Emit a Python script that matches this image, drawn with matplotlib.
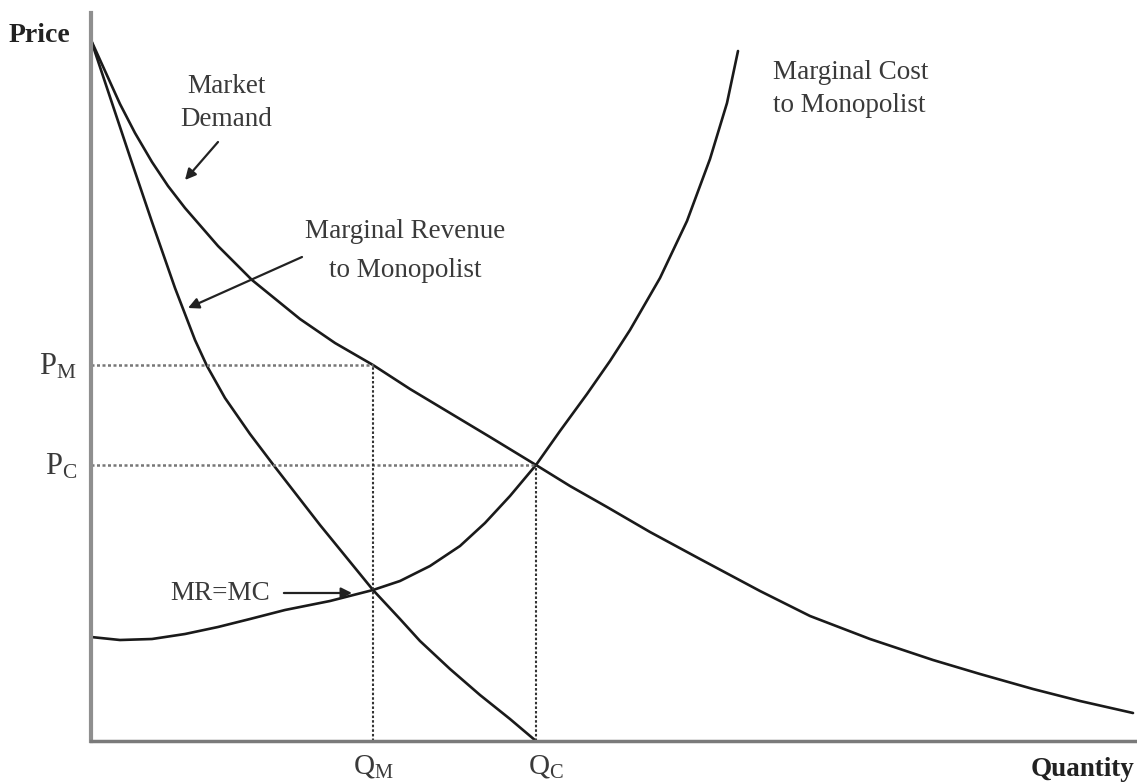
import matplotlib
matplotlib.use("Agg")
import matplotlib.pyplot as plt

plt.rcParams['font.family'] = ['Liberation Serif', 'DejaVu Serif']
plt.rcParams['mathtext.fontset'] = 'custom'
plt.rcParams['mathtext.rm'] = 'Liberation Serif'
plt.rcParams['mathtext.it'] = 'Liberation Serif:italic'

# curves (quantity, price)
demand_q = [0, 2.9, 4.4, 6.1, 7.7, 9.4, 12.7, 16.1, 20.9, 24.4, 28.2, 31.9, 35.9, 39.9, 44.5,
            47.9, 51.6, 55.9, 60.9, 66.9, 71.9, 77.9, 84.2, 88.9, 94.2, 98.9, 104.2]
demand_p = [70.1, 63.7, 60.8, 57.9, 55.5, 53.3, 49.5, 46.1, 42.2, 39.8, 37.6, 35.2, 32.8, 30.4, 27.6,
            25.5, 23.4, 20.9, 18.2, 15.0, 12.5, 10.2, 8.1, 6.7, 5.2, 4.0, 2.8]

mr_q = [0, 1.9, 3.9, 6.1, 8.4, 10.4, 11.6, 13.4, 15.9, 18.4, 22.9, 28.2, 30.9, 32.9, 35.9, 38.9, 41.9, 44.5]
mr_p = [70.1, 64.4, 58.4, 51.9, 45.3, 40.1, 37.5, 34.3, 30.7, 27.4, 21.6, 15.1, 12.2, 10.0, 7.2, 4.6, 2.2, 0]

mc_q = [0, 2.9, 6.1, 9.4, 12.7, 15.9, 19.4, 23.9, 28.2, 30.9, 33.9, 36.9, 39.4, 41.9, 44.5,
        46.9, 49.6, 51.9, 53.9, 56.9, 59.6, 61.9, 63.6, 64.7]
mc_p = [10.4, 10.1, 10.2, 10.7, 11.4, 12.2, 13.1, 14.0, 15.1, 16.0, 17.5, 19.5, 21.8, 24.5, 27.6,
        31.0, 34.7, 38.0, 41.1, 46.3, 52.0, 58.2, 63.8, 69.0]

q_m, p_m = 28.2, 37.6
q_c, p_c = 44.5, 27.6

fig = plt.figure(figsize=(11.37, 7.83), dpi=100)
ax = fig.add_axes([91 / 1137, 42 / 783, 1046 / 1137, 728 / 783])
ax.set_xlim(0, 104.6)
ax.set_ylim(0, 72.8)
ax.set_xticks([])
ax.set_yticks([])
for s in ['top', 'right']:
    ax.spines[s].set_visible(False)
ax.spines['left'].set_color('#8f8f8f')
ax.spines['left'].set_linewidth(3)
ax.spines['bottom'].set_color('#7a7a7a')
ax.spines['bottom'].set_linewidth(2.5)

ink = '#1a1a1a'
for xs, ys in [(demand_q, demand_p), (mr_q, mr_p), (mc_q, mc_p)]:
    ax.plot(xs, ys, color=ink, lw=1.9, solid_joinstyle='round', solid_capstyle='round')

dots = (0, (1.2, 1.0))
ax.plot([0, q_m], [p_m, p_m], color='#777777', lw=1.8, ls=dots)
ax.plot([0, q_c], [p_c, p_c], color='#777777', lw=1.8, ls=dots)
ax.plot([q_m, q_m], [0, p_m], color='#333333', lw=1.5, ls=dots)
ax.plot([q_c, q_c], [0, p_c], color='#333333', lw=1.5, ls=dots)

txt = '#3a3a3a'
fs = 19.5
ax.text(-2.1, 70.6, 'Price', ha='right', va='center', fontsize=20, fontweight='bold', color='#222222', clip_on=False)
ax.text(99.1, -2.9, 'Quantity', ha='center', va='center', fontsize=19.5, fontweight='bold', color='#222222', clip_on=False)
ax.text(-1.4, p_m - 0.2, r'$\mathrm{P_M}$', ha='right', va='center', fontsize=22, color=txt, clip_on=False)
ax.text(-1.4, p_c - 0.2, r'$\mathrm{P_C}$', ha='right', va='center', fontsize=22, color=txt, clip_on=False)
ax.text(q_m, -2.5, r'$\mathrm{Q_M}$', ha='center', va='center', fontsize=21, color=txt, clip_on=False)
ax.text(q_c + 1.0, -2.5, r'$\mathrm{Q_C}$', ha='center', va='center', fontsize=21, color=txt, clip_on=False)

ax.text(13.5, 63.8, 'Market\nDemand', ha='center', va='center', fontsize=fs, color=txt, linespacing=1.47)
ax.text(31.4, 49.0, 'Marginal Revenue\nto Monopolist', ha='center', va='center', fontsize=fs, color=txt, linespacing=1.69)
ax.text(68.2, 65.2, 'Marginal Cost\nto Monopolist', ha='left', va='center', fontsize=fs, color=txt, linespacing=1.42)

arrow = dict(arrowstyle='-|>', color='#222222', lw=1.6, mutation_scale=16, shrinkA=0, shrinkB=0)
ax.annotate('', xy=(9.4, 56.1), xytext=(12.7, 59.9), arrowprops=arrow)
ax.annotate('', xy=(9.7, 43.3), xytext=(21.1, 48.4), arrowprops=arrow)
ax.annotate('MR=MC', xy=(26.1, 14.8), xytext=(17.9, 14.8), ha='right', va='center',
            fontsize=fs, color=txt, arrowprops=dict(arrow, shrinkA=8))

fig.savefig('out.png', dpi=100)
